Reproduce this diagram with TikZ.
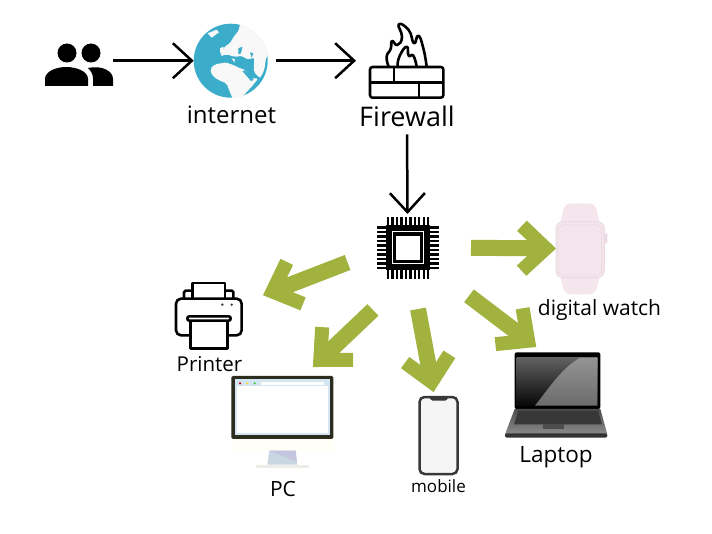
\documentclass[tikz,border=0pt]{standalone}
\usepackage{fontspec}
\setmainfont{Open Sans}
\usepackage{xcolor}
\usetikzlibrary{arrows.meta}
\definecolor{arrowgreen}{HTML}{A1B23F}
\definecolor{globeblue}{HTML}{3BADCB}
\definecolor{globewhite}{HTML}{F8F8F8}
\definecolor{watchpink}{HTML}{F4E6EC}
\definecolor{watchedge}{HTML}{EBDAE2}
\definecolor{pcframe}{HTML}{2D2D1F}
\definecolor{pcscreen}{HTML}{D5E6F2}
\begin{document}
\begin{tikzpicture}[
        x=1pt, y=-1pt,
        icon/.style={inner sep=0pt, outer sep=0pt},
        devtext/.style={inner sep=0pt, outer sep=0pt, anchor=base, text=black},
        blackarrow/.style={-{Straight Barb[length=19pt, width=35pt]}, line width=2.5pt, black},
        greenarrow/.style={-{Straight Barb[length=24pt, width=45pt, line width=14pt]}, line width=16pt, arrowgreen},
        outline/.style={line width=2.6pt, line join=round, black}
    ]
        \useasboundingbox (0,0) rectangle (712,534);

        \node[icon, minimum width=68pt, minimum height=52pt] (users) at (79, 60.7) {};
        \node[icon, circle, fill=globeblue, minimum size=74pt] (globe) at (230.7, 60.7) {};
        \node[icon, minimum width=74pt, minimum height=72pt] (firewall) at (407, 60.7) {};
        \node[icon, minimum width=62pt, minimum height=67pt] (chip) at (407.5, 247.5) {};
        \node[icon, minimum width=51pt, minimum height=91pt] (watch) at (581.5, 248.5) {};
        \node[icon, minimum width=66pt, minimum height=66pt] (printer) at (209, 316) {};
        \node[icon, minimum width=102pt, minimum height=92pt] (pc) at (282, 422) {};
        \node[icon, draw=black!78, fill=black!4, line width=2.5pt, rounded corners=5pt,
            minimum width=38pt, minimum height=77pt] (mobile) at (438.5, 435.5) {};
        \node[icon, minimum width=102pt, minimum height=86pt] (laptop) at (556, 395) {};

        \node[devtext, font=\fontsize{24}{24}\selectfont] (internettext) at (231.5, 124) {internet};
        \node[devtext, font=\fontsize{27}{27}\selectfont] (firewalltext) at (407, 127) {Firewall};
        \node[devtext, font=\fontsize{21}{21}\selectfont] (watchtext) at (599.5, 316) {digital watch};
        \node[devtext, font=\fontsize{20.5}{21}\selectfont] (printertext) at (209.5, 371) {Printer};
        \node[devtext, font=\fontsize{21}{21}\selectfont] (pctext) at (283, 496) {PC};
        \node[devtext, font=\fontsize{17}{17}\selectfont] (mobiletext) at (438.5, 492) {mobile};
        \node[devtext, font=\fontsize{22.5}{23}\selectfont] (laptoptext) at (556, 462) {Laptop};

        \fill (67, 53) circle[radius=9.5];
        \fill (91, 53) circle[radius=9.5];
        \fill (45, 86) -- (45, 79) .. controls (45, 71) and (57, 67) .. (66, 67)
            .. controls (76, 67) and (88, 71) .. (88, 79) -- (88, 86) -- cycle;
        \fill (93, 86) -- (93, 79) .. controls (93, 74) and (91, 71) .. (88, 68)
            .. controls (102, 65) and (113, 71) .. (113, 79) -- (113, 86) -- cycle;

        \begin{scope}[shift={(185,15)}, scale=1/3]
            \clip (137, 137) circle[radius=112];
            \fill[globewhite, rounded corners=2pt] (166, 24) -- (160, 50) -- (148, 62) -- (135, 85) -- (118, 95)
                -- (106, 124) -- (125, 118) -- (150, 126) -- (172, 122) -- (186, 134) -- (208, 128)
                -- (206, 170) -- (225, 190) -- (238, 165) -- (243, 128) -- (255, 110) -- (255, 20) -- cycle;
            \fill[globewhite, rounded corners=2pt] (75, 162) -- (90, 148) -- (125, 142) -- (145, 150)
                -- (165, 160) -- (182, 165) -- (195, 190) -- (220, 190) -- (200, 215) -- (172, 245)
                -- (145, 255) -- (132, 225) -- (125, 205) -- (100, 195) -- (82, 182) -- cycle;
            \fill[globewhite] (68, 55) -- (95, 44) -- (102, 52) -- (80, 68) -- cycle;
            \fill[globewhite] (105, 100) -- (115, 95) -- (118, 112) -- (106, 116) -- cycle;
            \fill[globeblue] (125, 125) -- (175, 128) -- (190, 148) -- (160, 152) -- (130, 145) -- cycle;
            \fill[globeblue] (172, 168) -- (180, 166) -- (206, 195) -- (198, 198) -- cycle;
            \fill[globewhite] (140, 130) -- (150, 133) -- (148, 142) -- cycle;
            \fill[globeblue] (160, 100) -- (172, 95) -- (168, 115) -- (160, 118) -- cycle;
            \fill[globeblue] (195, 112) -- (205, 115) -- (200, 128) -- cycle;
        \end{scope}

        \begin{scope}[shift={(360,15)}, scale=1/3]
            \draw[outline, rounded corners=2.5pt] (30, 156) rectangle (250, 248);
            \draw[outline] (30, 202) -- (250, 202);
            \draw[outline] (102, 156) -- (102, 202);
            \draw[outline] (177, 202) -- (177, 248);
            \draw[outline, smooth, tension=.9] plot coordinates {(86, 155) (80, 125) (92, 102) (96, 78)
                (112, 90) (126, 66) (116, 28) (146, 45) (162, 85) (175, 62) (190, 100) (200, 155)};
            \draw[outline, smooth, tension=.9] plot coordinates {(113, 155) (118, 125) (140, 95)
                (146, 122) (160, 122) (170, 155)};
        \end{scope}

        \begin{scope}[shift={(370,210)}, scale=1/3]
            \foreach \pin in {0,...,9} {
                \fill (50.5+\pin*13.4, 20) rectangle (57.5+\pin*13.4, 206);
                \fill (21, 49.5+\pin*13.4) rectangle (206, 56.5+\pin*13.4);
            }
            \fill (47, 45) rectangle (180, 180);
            \draw[white, line width=1pt] (66, 66) rectangle (161, 160);
            \fill[white] (78, 78) rectangle (150, 149);
        \end{scope}

        \begin{scope}[shift={(545,195)}, scale=1/3]
            \fill[watchpink, rounded corners=5pt] (44, 90) -- (60, 25) -- (150, 25) -- (166, 90) -- cycle;
            \fill[watchpink, rounded corners=5pt] (44, 240) -- (166, 240) -- (150, 298) -- (60, 298) -- cycle;
            \fill[watchedge, rounded corners=1pt] (175, 115) rectangle (187, 145);
            \filldraw[fill=watchpink, draw=watchedge, line width=1pt, rounded corners=7pt] (33, 80) rectangle (178, 248);
            \draw[watchedge, line width=.8pt, rounded corners=6pt] (40, 90) rectangle (170, 240);
        \end{scope}

        \begin{scope}[shift={(170,278)}, scale=1/3]
            \draw[outline, rounded corners=1.5pt] (42, 62) -- (42, 38) -- (68, 38);
            \draw[outline, rounded corners=1.5pt] (190, 62) -- (190, 38) -- (165, 38);
            \draw[outline] (68, 62) -- (68, 15) -- (165, 15) -- (165, 62);
            \draw[outline, fill=white, rounded corners=5pt] (18, 62) rectangle (215, 172);
            \fill[black!75] (157, 80) circle[radius=4] (185, 80) circle[radius=4];
            \draw[outline, fill=white] (62, 125) rectangle (172, 212);
            \draw[outline, fill=white, rounded corners=2pt] (52, 115) rectangle (182, 128);
        \end{scope}

        \begin{scope}[shift={(160,270)}, scale=1/3]
            \fill[pcframe, rounded corners=1.5pt] (214, 318) rectangle (520, 507);
            \fill[pcscreen] (226, 328) rectangle (510, 496);
            \fill[white] (232, 348) rectangle (503, 490);
            \fill[red!75!black] (240, 340) circle[radius=3.5];
            \fill[yellow!80!orange] (262, 340) circle[radius=3.5];
            \fill[green!60!gray] (284, 340) circle[radius=3.5];
            \fill[white] (303, 336) rectangle (492, 344);
            \fill[yellow!3] (214, 507) rectangle (520, 542);
            \fill[pcscreen!85!gray] (328, 542) -- (407, 542) -- (412, 584) -- (322, 584) -- cycle;
            \fill[blue!30!gray!35] (328, 542) -- (407, 542) -- (410, 575) -- cycle;
            \fill[yellow!20!black!10] (287, 584) rectangle (448, 593);
        \end{scope}

        \begin{scope}[shift={(400,340)}, scale=1/3]
            \fill[black!78, rounded corners=1.5pt] (88, 170) -- (145, 170) -- (140, 182) -- (93, 182) -- cycle;
        \end{scope}

        \begin{scope}[shift={(500,345)}, scale=1/3]
            \fill[black, rounded corners=2pt] (44, 22) rectangle (301, 192);
            \shade[top color=black!62, middle color=black!92, bottom color=black!97] (50, 38) rectangle (292, 182);
            \shade[top color=black!42, bottom color=black!58] (105, 182) .. controls (150, 125) and (185, 70) .. (240, 38)
                -- (292, 38) -- (292, 182) -- cycle;
            \shade[top color=black!70, bottom color=black!45] (44, 192) -- (301, 192) -- (322, 268) -- (15, 268) -- cycle;
            \fill[black!78] (55, 197) -- (294, 197) -- (306, 238) -- (42, 238) -- cycle;
            \fill[black!70] (130, 238) rectangle (192, 252);
            \fill[black!80, rounded corners=2pt] (15, 265) rectangle (322, 278);
        \end{scope}

        \draw[blackarrow] (users.east) -- (globe.west);
        \draw[blackarrow, shorten <=8pt, shorten >=14pt] (globe.east) -- (firewall.west);
        \draw[blackarrow, shorten <=7pt] (firewalltext.south) -- (chip.north);
        \draw[greenarrow, shorten <=32.5pt] (chip.east) -- (watch.west);
        \draw[greenarrow, shorten <=31pt, shorten >=22.5pt] (chip.187.4) -- (printer.21.5);
        \draw[greenarrow, shorten <=42pt, shorten >=13pt] (chip.263.2) -- (pc.65);
        \draw[greenarrow, shorten <=28.5pt, shorten >=5pt] (chip.279.2) -- (mobile.96.5);
        \draw[greenarrow, shorten <=38.3pt, shorten >=8.3pt] (chip.-39.2) -- (laptop.107.3);
    \end{tikzpicture}
\end{document}
